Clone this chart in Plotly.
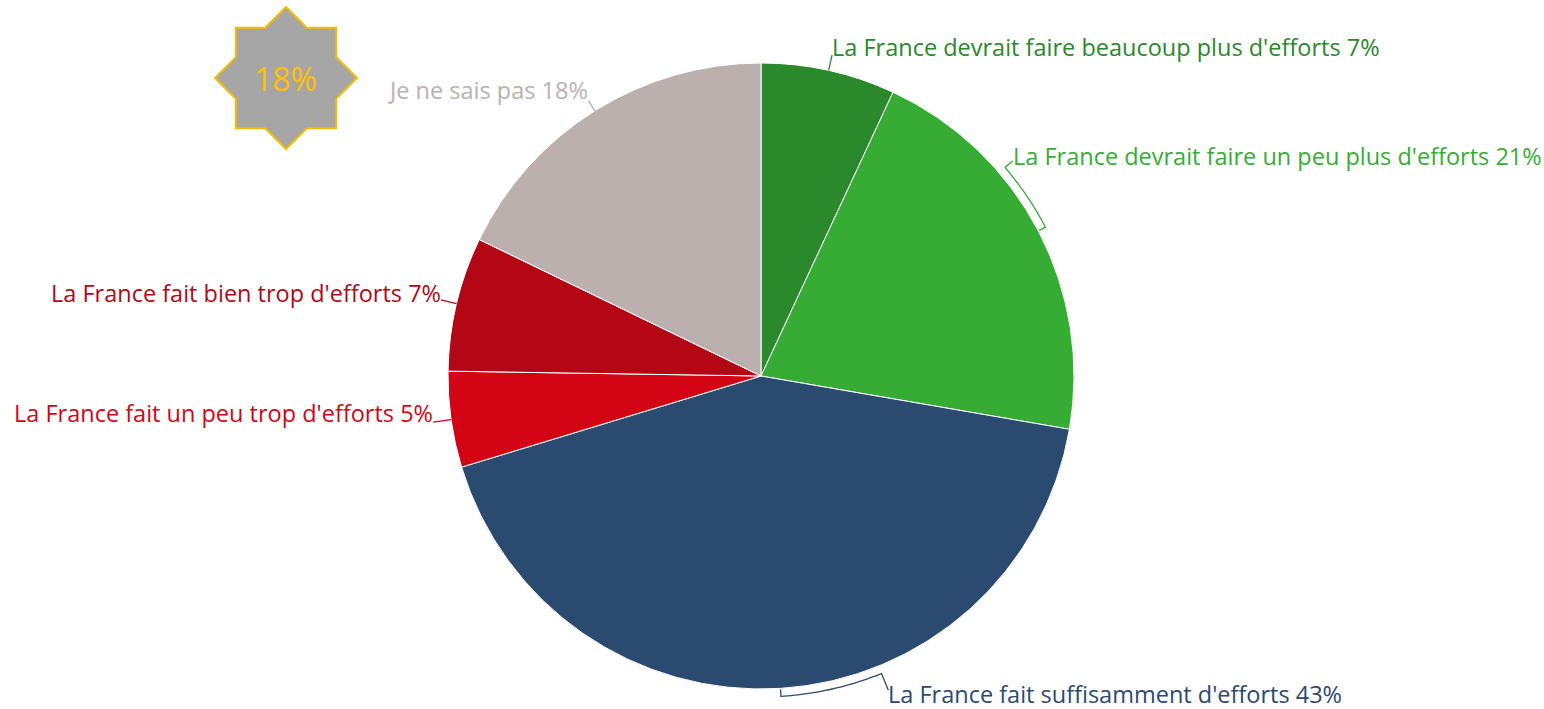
import math
import plotly.graph_objects as go

# ---- data ----
labels = [
    "La France devrait faire beaucoup plus d'efforts",
    "La France devrait faire un peu plus d'efforts",
    "La France fait suffisamment d'efforts",
    "La France fait un peu trop d'efforts",
    "La France fait bien trop d'efforts",
    "Je ne sais pas",
]
values = [7, 21, 43, 5, 7, 18]
colors = ["#2a892a", "#37ac35", "#2b4a70", "#d30515", "#b30715", "#bcb0ae"]
badge_text = "18%"

# ---- layout geometry (pixels) ----
W, H = 1544, 709
cx, cy, r = 761, 376, 313
label_shift = [0, -12.9, -18.5, 0, 0, 0]      # degrees the label is moved from slice middle
end_radius = [329, 331, 339, 331, 329, 325]  # radius of connector end
label_dy = [-8, -5, 4, -9, -7, -11]
FONT = "Open Sans"

def px(x, y):
    return x / W, 1 - y / H

def polar(R, deg):
    a = math.radians(deg)
    return cx + R * math.sin(a), cy - R * math.cos(a)

fig = go.Figure()
fig.add_trace(go.Pie(
    labels=labels, values=values, sort=False, direction="clockwise", rotation=0,
    marker=dict(colors=colors, line=dict(color="white", width=1)),
    textinfo="none", hoverinfo="label+percent", showlegend=False,
    domain=dict(x=[(cx - r) / W, (cx + r) / W], y=[1 - (cy + r) / H, 1 - (cy - r) / H]),
))

total = sum(values)
cum = 0
shapes = []
annotations = []
for i, v in enumerate(values):
    mid = 360 * (cum + v / 2) / total
    cum += v
    lab_ang = mid + label_shift[i]
    ex, ey = polar(end_radius[i], lab_ang)
    pts = []
    if abs(label_shift[i]) > 0.5:
        pts.append(polar(r + 1, mid))
        Rb = r + 8
        n = 30
        for k in range(n + 1):
            pts.append(polar(Rb, mid + (lab_ang - mid) * k / n))
        pts.append((ex, ey))
    else:
        pts.append(polar(r, mid))
        pts.append((ex, ey))
    path = "M " + " L ".join(f"{px(x, y)[0]:.5f},{px(x, y)[1]:.5f}" for x, y in pts)
    shapes.append(dict(type="path", xref="paper", yref="paper", path=path,
                       line=dict(color=colors[i], width=1.3)))
    right = (lab_ang % 360) < 180
    lx = ex + (-1 if right else 1)
    ly = ey + label_dy[i]
    axp, ayp = px(lx, ly)
    annotations.append(dict(
        x=axp, y=ayp, xref="paper", yref="paper", showarrow=False, borderpad=0,
        xanchor="left" if right else "right", yanchor="middle",
        text=f"{labels[i]} {v}%", font=dict(family=FONT, size=23.5, color=colors[i]),
    ))

# ---- badge star ----
scx, scy, Ro = 286, 78, 71
Ri = Ro * math.cos(math.radians(45)) / math.cos(math.radians(22.5))
spts = []
for k in range(16):
    R = Ro if k % 2 == 0 else Ri
    a = math.radians(k * 22.5)
    spts.append((scx + R * math.sin(a), scy - R * math.cos(a)))
spath = "M " + " L ".join(f"{px(x, y)[0]:.5f},{px(x, y)[1]:.5f}" for x, y in spts) + " Z"
shapes.append(dict(type="path", xref="paper", yref="paper", path=spath,
                   fillcolor="#a6a6a6", line=dict(color="#f5bd00", width=2)))
bx, by = px(scx - 1, scy)
annotations.append(dict(x=bx, y=by, xref="paper", yref="paper", showarrow=False,
                        xanchor="center", yanchor="middle", text=badge_text,
                        font=dict(family=FONT, size=32, color="#ffc000")))

fig.update_layout(
    width=W, height=H, margin=dict(l=0, r=0, t=0, b=0),
    paper_bgcolor="white", plot_bgcolor="white",
    shapes=shapes, annotations=annotations,
    font=dict(family=FONT),
)
fig.write_html("out.html", config={"displayModeBar": False},
               post_script="document.body.style.margin='0';document.body.style.overflow='hidden';")
